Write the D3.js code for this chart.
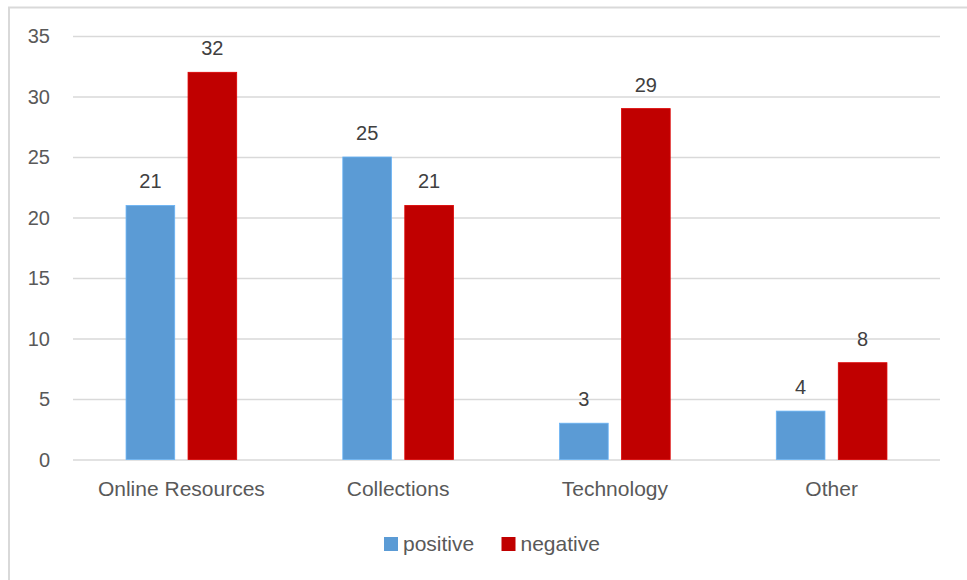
<!DOCTYPE html>
<html>
<head>
<meta charset="utf-8">
<script src="https://cdn.jsdelivr.net/npm/d3@7"></script>
<style>
  html, body { margin: 0; padding: 0; background: #fff; }
  svg { display: block; }
  text { font-family: "Liberation Sans", Arial, sans-serif; }
</style>
</head>
<body>
<svg id="chart" width="967" height="580"></svg>
<script>
// Feedback counts by area
const categories = ["Online Resources", "Collections", "Technology", "Other"];
const seriesNames = ["positive", "negative"];
const positiveValues = [21, 25, 3, 4];
const negativeValues = [32, 21, 29, 8];
const yTicks = [0, 5, 10, 15, 20, 25, 30, 35];
const seriesColors = ["#5B9BD5", "#C00000"];

const rows = categories.map((c, i) => ({
  category: c,
  values: [positiveValues[i], negativeValues[i]]
}));

const svg = d3.select("#chart");
const W = 967, H = 580;
const plot = { left: 73, right: 940, top: 36, bottom: 459.5 };

// Chart frame
svg.append("rect")
  .attr("x", 9).attr("y", 7.5)
  .attr("width", W + 20).attr("height", H + 20)
  .attr("fill", "#fff")
  .attr("stroke", "#D9D9D9")
  .attr("stroke-width", 2);

const x = d3.scaleBand()
  .domain(categories)
  .range([plot.left, plot.right])
  .paddingInner(0).paddingOuter(0);

const y = d3.scaleLinear()
  .domain([0, 35])
  .range([plot.bottom, plot.top]);

// Bars inside each category: two bars with a small gap, centred
const barW = x.bandwidth() * 0.2245;
const gap = x.bandwidth() * 0.0615;
const xInner = d3.scaleOrdinal()
  .domain(seriesNames)
  .range([-(barW + gap / 2), gap / 2]);

// Gridlines + y labels via axis
const yAxis = d3.axisLeft(y)
  .tickValues(yTicks)
  .tickSize(-(plot.right - plot.left))
  .tickPadding(23)
  .tickFormat(d3.format("d"));

const gy = svg.append("g")
  .attr("transform", `translate(${plot.left},0)`)
  .call(yAxis);
gy.select(".domain").remove();
gy.selectAll(".tick line")
  .attr("stroke", "#D9D9D9")
  .attr("stroke-width", 1.5);
gy.selectAll(".tick text")
  .attr("fill", "#595959")
  .style("font-size", "20px")
  .attr("dy", "0.34em");

// Category axis labels
const xAxis = d3.axisBottom(x).tickSize(0).tickPadding(22);
const gx = svg.append("g")
  .attr("transform", `translate(0,${plot.bottom})`)
  .call(xAxis);
gx.select(".domain").remove();
gx.selectAll(".tick text")
  .attr("fill", "#595959")
  .style("font-size", "21px");

// Bars
const groups = svg.append("g").selectAll("g")
  .data(rows)
  .join("g")
  .attr("transform", d => `translate(${x(d.category) + x.bandwidth() / 2},0)`);

groups.selectAll("rect")
  .data(d => d.values.map((v, i) => ({ key: seriesNames[i], value: v, color: seriesColors[i] })))
  .join("rect")
  .attr("x", d => xInner(d.key))
  .attr("width", barW)
  .attr("y", d => y(d.value))
  .attr("height", d => y(0) - y(d.value))
  .attr("fill", d => d.color)
  .attr("stroke", d => d3.color(d.color).brighter(0.4))
  .attr("stroke-width", 0.8);

// Value labels
groups.selectAll("text.val")
  .data(d => d.values.map((v, i) => ({ key: seriesNames[i], value: v })))
  .join("text")
  .attr("class", "val")
  .attr("x", d => xInner(d.key) + barW / 2)
  .attr("y", d => y(d.value) - 17)
  .attr("text-anchor", "middle")
  .attr("fill", "#404040")
  .style("font-size", "20px")
  .text(d => d.value);

// Legend
const legend = svg.append("g").attr("transform", "translate(384,537)");
const legendItems = legend.selectAll("g")
  .data(seriesNames)
  .join("g")
  .attr("transform", (d, i) => `translate(${i === 0 ? 0 : 117.5},0)`);
legendItems.append("rect")
  .attr("width", 14).attr("height", 14)
  .attr("fill", (d, i) => seriesColors[i]);
legendItems.append("text")
  .attr("x", 19).attr("y", 14)
  .attr("fill", "#595959")
  .style("font-size", "21px")
  .text(d => d);
</script>
</body>
</html>
